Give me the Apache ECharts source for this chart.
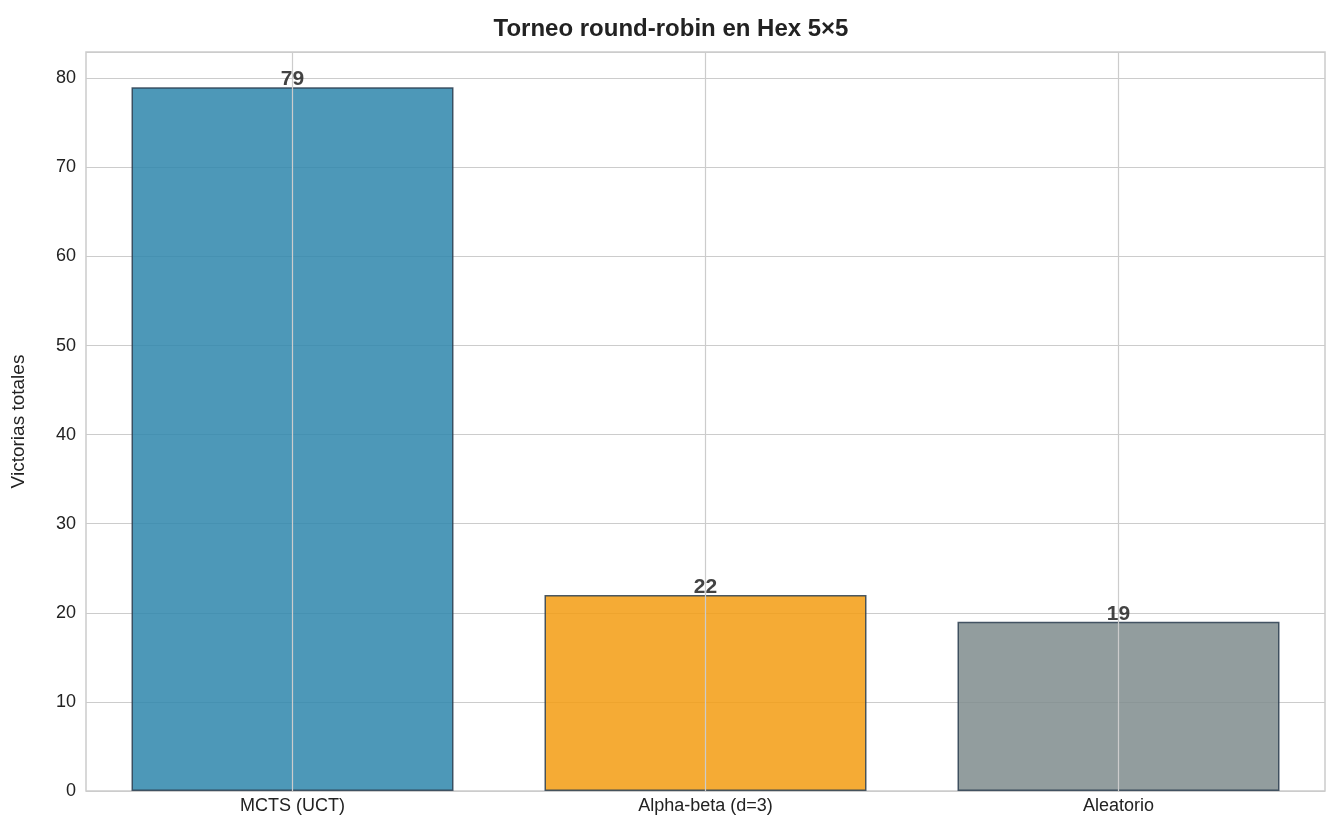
<!DOCTYPE html>
<html>
<head>
<meta charset="utf-8">
<script src="https://cdn.jsdelivr.net/npm/echarts@6/dist/echarts.min.js"></script>
<style>html,body{margin:0;padding:0;background:#fff}#chart{width:1342px;height:837px}</style>
</head>
<body>
<div id="chart"></div>
<script>
var categories = ['MCTS (UCT)', 'Alpha-beta (d=3)', 'Aleatorio'];
var wins = [79, 22, 19];
var colors = ['#2E86AB', '#F39C12', '#7F8C8D'];

var myChart = echarts.init(document.getElementById('chart'));
var option = {
  title: {
    text: 'Torneo round-robin en Hex 5×5',
    left: 'center', top: 12,
    textStyle: { fontFamily: 'Liberation Sans', fontSize: 24, fontWeight: 'bold', color: '#222' }
  },
  grid: { left: 86, right: 17, top: 52, bottom: 46, show: true, borderColor: '#ccc', borderWidth: 1.5 },
  xAxis: {
    type: 'category', data: categories,
    axisLine: { show: false }, axisTick: { show: false },
    axisLabel: { fontFamily: 'Liberation Sans', fontSize: 18, color: '#222', margin: 6 },
    splitLine: { show: false }
  },
  yAxis: {
    type: 'value', min: 0, max: 82.95, interval: 10,
    name: 'Victorias totales', nameLocation: 'middle', nameGap: 58,
    nameTextStyle: { fontFamily: 'Liberation Sans', fontSize: 19, color: '#222' },
    axisLine: { show: false }, axisTick: { show: false },
    axisLabel: { fontFamily: 'Liberation Sans', fontSize: 18, color: '#222', margin: 10,
      formatter: function (v) { return v % 10 === 0 ? v : ''; } },
    splitLine: { lineStyle: { color: '#ccc', width: 1.2 } }
  },
  series: [
    {
      type: 'line', data: [], z: 1, silent: true,
      markLine: {
        symbol: 'none', silent: true, label: { show: false },
        lineStyle: { color: '#ccc', width: 1.2, type: 'solid' },
        data: categories.map(function (c) { return { xAxis: c }; })
      }
    },
    {
      type: 'bar', barWidth: 322, z: 2,
      data: wins.map(function (v, i) {
        return { value: v, itemStyle: { color: colors[i], opacity: 0.85 } };
      }),
      itemStyle: { borderColor: '#2C3E50', borderWidth: 1.5 },
      label: { show: true, position: 'top', distance: -3,
        fontFamily: 'Liberation Sans', fontSize: 21, fontWeight: 'bold', color: '#222' }
    }
  ]
};
myChart.setOption(option);
</script>
</body>
</html>
